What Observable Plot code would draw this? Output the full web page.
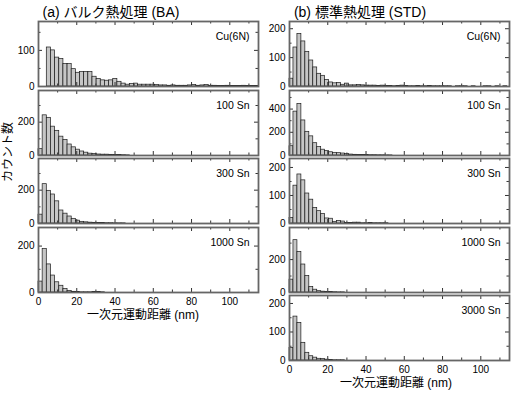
<!DOCTYPE html>
<html><head><meta charset="utf-8">
<script src="https://cdn.jsdelivr.net/npm/d3@7"></script>
<script src="https://cdn.jsdelivr.net/npm/@observablehq/plot@0.6"></script>
<style>
body{margin:0;background:#fff}
#chart{position:relative;width:511px;height:394px;overflow:hidden;font-family:"Liberation Sans",Arial,"Noto Sans CJK JP",sans-serif}
#chart svg{position:absolute}
</style></head><body><div id="chart"></div>
<script>
// ---- data ----
const xMax = 115;
const binWidthBA = 2.17;
const binWidthSTD = 2.07;
const xTickLabels = [0, 20, 40, 60, 80, 100];
const xTickValues = [0, 10, 20, 30, 40, 50, 60, 70, 80, 90, 100, 110];

const titleBA = "(a) バルク熱処理 (BA)";
const titleSTD = "(b) 標準熱処理 (STD)";
const xLabel = "一次元運動距離 (nm)";
const yLabel = "カウント数";

const labelsBA = ["Cu(6N)", "100 Sn", "300 Sn", "1000 Sn"];
const labelsSTD = ["Cu(6N)", "100 Sn", "300 Sn", "1000 Sn", "3000 Sn"];

const countsBA_Cu = [0,0,108,100,80,76,62,62,48,38,40,40,40,27,21,17,16,17,21,13,8,5,7,8,5,5,5,5,4,3,3,2,3,2,2,2,3,4,2,3,4,2,2,1,1,2,1,1,1,2,1,1,1];
const countsBA_100 = [38,241,226,173,148,113,93,66,49,35,24,17,11,9,6,5,5,4,3,3,2,1];
const countsBA_300 = [53,236,196,174,133,78,59,42,28,17,10,7,5,4,3,3,2,2,1,1,1];
const countsBA_1000 = [47,187,121,73,44,29,15,7,3,2,1,1,1,2,2,1];

const countsSTD_Cu = [27,135,182,156,120,90,66,44,37,23,14,11,12,6,10,4,4,5,4,3,3,3,2,3,2,2,1,2,3,2,1,1,2,1,1,2,1,1,1,1,1,0,1,1,1,0,1,0,0,1,1,0,1,0,1];
const countsSTD_100 = [80,378,444,302,204,165,106,72,50,38,28,23,20,17,12,8,6,5,4,4,3,3,2,2,1,1];
const countsSTD_300 = [20,135,175,154,107,85,55,44,34,18,17,6,9,7,2,2,3,3,1,1,2,1,1,1,1];
const countsSTD_1000 = [78,318,246,170,100,34,17,8,5,4,3,2,1,1];
const countsSTD_3000 = [44,154,132,62,27,15,10,6,5,3,2,1,1,1];

const yMaxBA = [180, 390, 390, 280];
const yMaxSTD = [225, 560, 232, 395, 228];
const yTicksBA = [[0,100],[0,200],[0,200],[0,200]];
const yMinorBA = [[50,150],[100,300],[100,300],[100]];
const yTicksSTD = [[0,100,200],[0,200,400],[0,100,200],[0,200],[0,100,200]];
const yMinorSTD = [[50,150],[100,300,500],[50,150],[100,300],[50,150]];

// ---- layout ----
const frameW = 220, frameH = 65;
const rowTops = [21, 90, 158, 227, 295];
const colBA = {svgLeft: 0, ml: 38};
const colSTD = {svgLeft: 260, ml: 29};
const chart = document.getElementById("chart");
const font = "Liberation Sans, Arial, Noto Sans CJK JP, sans-serif";

function panel(counts, w, label, ymax, yt, ym, bottom, col, row) {
  const mt = 2, mr = 2, mb = bottom ? 20 : 2;
  const kx = xMax / frameW, ky = ymax / frameH;
  const bars = counts.map((c, i) => ({x1: i * w, x2: (i + 1) * w, c})).filter(d => d.c > 0);
  const major = 4, minor = 2.5;
  const yAll = yt.map(v => ({v, l: major})).concat(ym.map(v => ({v, l: minor})));
  const xAll = xTickValues.map(v => ({v, l: v % 20 === 0 ? major : minor}));
  const marks = [
    Plot.rectY(bars, {x1: "x1", x2: "x2", y: "c", fill: "#c6c6c6", stroke: "#1a1a1a", strokeWidth: 0.7}),
    Plot.ruleY(yAll, {y: "v", x1: 0, x2: d => d.l * kx, stroke: "#333"}),
    Plot.ruleY(yAll, {y: "v", x1: d => xMax - d.l * kx, x2: xMax, stroke: "#333"}),
    Plot.ruleX(xAll, {x: "v", y1: 0, y2: d => d.l * ky, stroke: "#333"}),
    Plot.ruleX(xAll, {x: "v", y1: d => ymax - d.l * ky, y2: ymax, stroke: "#333"}),
    Plot.frame({stroke: "#666", strokeWidth: 1.8}),
    Plot.axisY(yt, {tickSize: 0, tickPadding: 4, fontSize: 10, label: null}),
    Plot.text([label], {text: d => d, frameAnchor: "top-right", dx: -9, dy: 15, lineAnchor: "middle", textAnchor: "end", fontSize: 10.5})
  ];
  if (bottom) marks.push(Plot.axisX(xTickLabels, {tickSize: 0, tickPadding: 5, fontSize: 10, label: null}));
  const svg = Plot.plot({
    width: col.ml + frameW + mr,
    height: mt + frameH + mb,
    marginLeft: col.ml, marginRight: mr, marginTop: mt, marginBottom: mb,
    x: {domain: [0, xMax], axis: bottom ? undefined : null},
    y: {domain: [0, ymax], label: null},
    style: {fontFamily: font, fontSize: "10px", background: "transparent", overflow: "visible", color: "#000"},
    marks
  });
  svg.style.left = col.svgLeft + "px";
  svg.style.top = (rowTops[row] - mt) + "px";
  chart.appendChild(svg);
}

const BA = [countsBA_Cu, countsBA_100, countsBA_300, countsBA_1000];
BA.forEach((c, i) => panel(c, binWidthBA, labelsBA[i], yMaxBA[i], yTicksBA[i], yMinorBA[i], i === BA.length - 1, colBA, i));
const STD = [countsSTD_Cu, countsSTD_100, countsSTD_300, countsSTD_1000, countsSTD_3000];
STD.forEach((c, i) => panel(c, binWidthSTD, labelsSTD[i], yMaxSTD[i], yTicksSTD[i], yMinorSTD[i], i === STD.length - 1, colSTD, i));

// ---- titles & axis labels ----
const ov = d3.select(chart).append("svg").attr("width", 511).attr("height", 394)
  .style("left", "0px").style("top", "0px").style("pointer-events", "none")
  .attr("font-family", font).attr("fill", "#000");
ov.append("text").attr("x", 111).attr("y", 17).attr("text-anchor", "middle").attr("font-size", 14).text(titleBA);
ov.append("text").attr("x", 360).attr("y", 17).attr("text-anchor", "middle").attr("font-size", 14).text(titleSTD);
ov.append("text").attr("x", 143).attr("y", 319).attr("text-anchor", "middle").attr("font-size", 12).text(xLabel);
ov.append("text").attr("x", 396).attr("y", 387).attr("text-anchor", "middle").attr("font-size", 12).text(xLabel);
ov.append("text").attr("transform", "translate(12,152) rotate(-90)").attr("text-anchor", "middle").attr("font-size", 12).text(yLabel);
</script>
</body></html>
